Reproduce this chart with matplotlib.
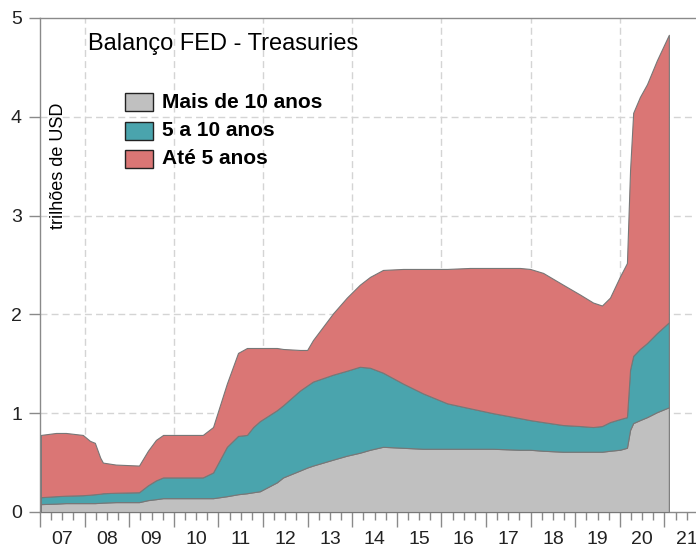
import matplotlib
matplotlib.use("Agg")
import matplotlib.pyplot as plt
from matplotlib.patches import Rectangle
from matplotlib.ticker import FixedLocator, FuncFormatter
import numpy as np

plt.rcParams['font.family'] = ['Liberation Sans', 'DejaVu Sans']

# decimal-year dates and components (trillions USD)
dates = [2007.02, 2007.36, 2007.58, 2007.96, 2008.12, 2008.23, 2008.35, 2008.41, 2008.70,
         2009.22, 2009.42, 2009.60, 2009.76, 2010.65, 2010.88, 2011.19, 2011.44, 2011.64,
         2011.78, 2011.93, 2012.31, 2012.45, 2012.83, 2012.99, 2013.12, 2013.57, 2013.88,
         2014.17, 2014.40, 2014.69, 2015.14, 2015.59, 2016.13, 2016.64, 2017.16, 2017.76,
         2017.99, 2018.28, 2018.73, 2019.11, 2019.40, 2019.60, 2019.78, 2020.00, 2020.16,
         2020.23, 2020.30, 2020.45, 2020.61, 2020.83, 2021.10]
mais_10 = [0.08, 0.085, 0.09, 0.09, 0.09, 0.09, 0.093, 0.095, 0.10,
           0.10, 0.12, 0.13, 0.14, 0.14, 0.14, 0.16, 0.18, 0.19,
           0.20, 0.21, 0.30, 0.35, 0.42, 0.45, 0.47, 0.53, 0.57,
           0.60, 0.63, 0.66, 0.65, 0.64, 0.64, 0.64, 0.64, 0.63,
           0.63, 0.62, 0.61, 0.61, 0.61, 0.61, 0.62, 0.63, 0.65,
           0.83, 0.90, 0.93, 0.96, 1.01, 1.06]
de5_a_10 = [0.07, 0.075, 0.075, 0.08, 0.085, 0.09, 0.092, 0.095, 0.095,
            0.10, 0.15, 0.19, 0.21, 0.21, 0.26, 0.50, 0.59, 0.59,
            0.66, 0.71, 0.73, 0.73, 0.81, 0.83, 0.85, 0.86, 0.86,
            0.87, 0.83, 0.75, 0.65, 0.56, 0.46, 0.41, 0.36, 0.32,
            0.30, 0.29, 0.27, 0.26, 0.25, 0.26, 0.29, 0.31, 0.31,
            0.61, 0.68, 0.72, 0.75, 0.80, 0.86]
ate_5 = [0.63, 0.64, 0.635, 0.61, 0.545, 0.52, 0.365, 0.31, 0.285,
         0.27, 0.35, 0.41, 0.43, 0.43, 0.46, 0.64, 0.84, 0.88,
         0.80, 0.74, 0.63, 0.57, 0.41, 0.36, 0.42, 0.62, 0.74,
         0.83, 0.92, 1.04, 1.16, 1.26, 1.36, 1.42, 1.47, 1.52,
         1.53, 1.51, 1.42, 1.33, 1.26, 1.22, 1.26, 1.44, 1.56,
         2.02, 2.46, 2.55, 2.62, 2.76, 2.91]

labels = ["Mais de 10 anos", "5 a 10 anos", "Até 5 anos"]
colors = ["#c0c0c0", "#4aa4ad", "#da7675"]
year_labels = ["07", "08", "09", "10", "11", "12", "13", "14", "15", "16", "17", "18", "19", "20", "21"]
first_year = 2007

W, H = 696, 550
fig = plt.figure(figsize=(W / 100, H / 100), dpi=100)
ax = fig.add_axes([40 / W, 38 / H, 656 / W, 494 / H])

ax.stackplot(dates, mais_10, de5_a_10, ate_5, colors=colors,
             edgecolor="#777777", linewidth=0.8, zorder=3)

ax.set_ylim(0, 5)
ax.set_xlim(2007.0, 2007.0 + 656 / 44.6)

# grid
for yv in [1, 2, 3, 4]:
    ax.axhline(yv, color="#d4d4d4", lw=1.0, ls=(0, (5, 3)), zorder=1)
for xv in range(2008, 2022, 2):
    ax.axvline(xv, color="#d4d4d4", lw=1.0, ls=(0, (5, 3)), zorder=1)

# spines
for s in ["left", "bottom", "top"]:
    ax.spines[s].set_color("#8a8a8a")
    ax.spines[s].set_linewidth(1.0)
ax.spines["right"].set_visible(False)

# ticks
ax.set_yticks([0, 1, 2, 3, 4, 5])
ax.tick_params(axis="y", direction="out", length=8, width=1, color="#8a8a8a",
               labelsize=14, pad=5, labelcolor="#222222")
years = np.arange(first_year, first_year + len(year_labels) + 1)
ax.xaxis.set_major_locator(FixedLocator(years))
ax.xaxis.set_major_formatter(FuncFormatter(lambda v, p: ""))
quarters = [y + q for y in range(first_year, first_year + len(year_labels)) for q in (0.25, 0.5, 0.75)]
ax.xaxis.set_minor_locator(FixedLocator(quarters))


def fmt(v, p):
    if abs((v - np.floor(v)) - 0.5) < 1e-6:
        i = int(np.floor(v)) - first_year
        if 0 <= i < len(year_labels):
            return year_labels[i]
    return ""


ax.xaxis.set_minor_formatter(FuncFormatter(fmt))
ax.tick_params(axis="x", which="major", direction="out", length=11, width=1, color="#8a8a8a")
ax.tick_params(axis="x", which="minor", direction="out", length=6, width=1, color="#8a8a8a",
               labelsize=14, pad=8, labelcolor="#222222")

# title and y label inside
fig.text(88 / W, 1 - 44 / H, "Balanço FED - Treasuries", fontsize=17, ha="left", va="center")
fig.text(59 / W, 1 - 166 / H, "trilhões de USD", fontsize=13, rotation=90, ha="center", va="center")

# legend (manual)
for i, (lab, col) in enumerate(zip(labels, colors)):
    yc = [102, 131, 159][i]
    fig.patches.append(Rectangle((125 / W, 1 - (yc + 9) / H), 28 / W, 18 / H,
                                 transform=fig.transFigure, facecolor=col,
                                 edgecolor="#222222", lw=1.0))
    fig.text(162 / W, 1 - yc / H, lab, fontsize=15, fontweight="bold", ha="left", va="center")

fig.savefig("out.png", dpi=100)
